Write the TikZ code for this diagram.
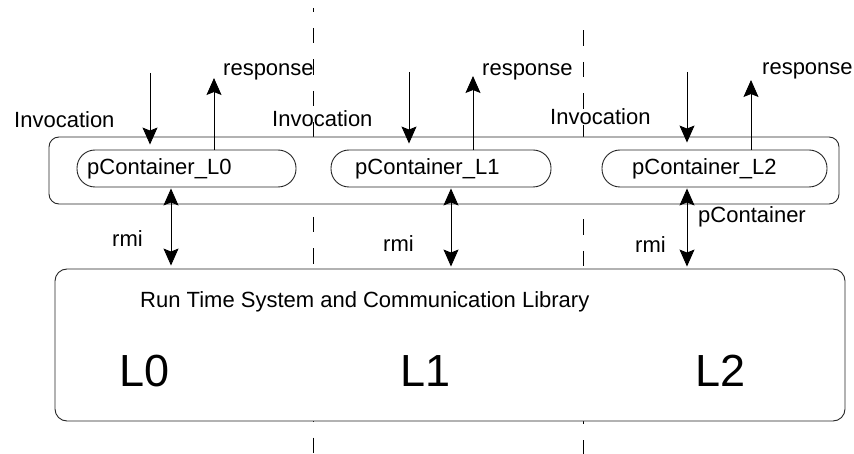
\documentclass[tikz,border=0pt]{standalone}
\usepackage{fontspec}
\setmainfont{Liberation Sans}
\usetikzlibrary{arrows.meta}
\begin{document}
\begin{tikzpicture}[x=1pt,y=-1pt,
  lbl/.style={anchor=base west, inner sep=0pt, font=\fontsize{22}{24}\selectfont},
  big/.style={anchor=base west, inner sep=0pt, font=\fontsize{45}{50}\selectfont},
  frame/.style={draw=black!85, line width=0.9pt, fill=white, inner sep=0pt},
  sepline/.style={draw=black, line width=0.9pt, dash pattern=on 15.5pt off 16pt},
  arr/.style={draw=black, line width=0.9pt, -{Stealth[length=17pt,width=15pt,inset=3pt]}},
  darr/.style={draw=black, line width=0.9pt, {Stealth[length=17pt,width=15pt,inset=3pt]}-{Stealth[length=17pt,width=15pt,inset=3pt]}}
]
\useasboundingbox (0,0) rectangle (854,454);

% dashed separators
\coordinate (s1a) at (313,8);
\coordinate (s1b) at (313,454);
\coordinate (s2a) at (583,14.5);
\coordinate (s2b) at (583,454);
\draw[sepline, dash phase=11.5pt] (s1a) -- (s1b);
\draw[sepline, dash phase=15.5pt] (s2a) -- (s2b);

% boxes
\node[frame, rounded corners=10pt, minimum width=790pt, minimum height=67pt] (outer) at (444,170.5) {};
\node[frame, rounded corners=12pt, minimum width=790pt, minimum height=152pt] (bot) at (450,345) {};
\node[frame, rounded corners=18pt, minimum width=219pt, minimum height=37pt] (pc0) at (186.5,168.5) {};
\node[frame, rounded corners=18pt, minimum width=220pt, minimum height=37pt] (pc1) at (441,168.5) {};
\node[frame, rounded corners=18pt, minimum width=225pt, minimum height=37pt] (pc2) at (714.5,168.5) {};

% texts
\node[lbl] (t0) at (87,175) {pContainer\_L0};
\node[lbl] (t1) at (355,175) {pContainer\_L1};
\node[lbl] (t2) at (632,175) {pContainer\_L2};
\node[lbl] (inv0t) at (14,128) {Invocation};
\node[lbl] (inv1t) at (272,127) {Invocation};
\node[lbl] (inv2t) at (550,125) {Invocation};
\node[lbl] (r0t) at (223,76) {response};
\node[lbl] (r1t) at (482,76) {response};
\node[lbl] (r2t) at (762,75) {response};
\node[lbl] (m0t) at (112,247) {rmi};
\node[lbl] (m1t) at (383,252) {rmi};
\node[lbl] (m2t) at (635,253) {rmi};
\node[lbl] (pct) at (698,223) {pContainer};
\node[lbl] (rts) at (140,308) {Run Time System and Communication Library};
\node[big] (L0) at (119,386) {L0};
\node[big] (L1) at (400,386) {L1};
\node[big] (L2) at (695,386) {L2};

% invocation arrows
\coordinate (i0) at (150,73);
\coordinate (i1) at (409,72);
\coordinate (i2) at (687,72);
\draw[arr, shorten >=5pt] (i0) -- (i0 |- pc0.north);
\draw[arr, shorten >=6pt] (i1) -- (i1 |- pc1.north);
\draw[arr, shorten >=7pt] (i2) -- (i2 |- pc2.north);

% response arrows
\coordinate (r0) at (214,78);
\coordinate (r1) at (473,76);
\coordinate (r2) at (751,80);
\draw[arr] (r0 |- pc0.north) -- (r0);
\draw[arr] (r1 |- pc1.north) -- (r1);
\draw[arr] (r2 |- pc2.north) -- (r2);

% rmi arrows
\coordinate (m0) at (171,230);
\coordinate (m1) at (451,230);
\coordinate (m2) at (687,230);
\draw[darr, shorten <=1pt, shorten >=3pt] (m0 |- pc0.south) -- (m0 |- bot.north);
\draw[darr, shorten <=1pt, shorten >=2pt] (m1 |- pc1.south) -- (m1 |- bot.north);
\draw[darr, shorten <=1pt, shorten >=2pt] (m2 |- pc2.south) -- (m2 |- bot.north);
\end{tikzpicture}
\end{document}
